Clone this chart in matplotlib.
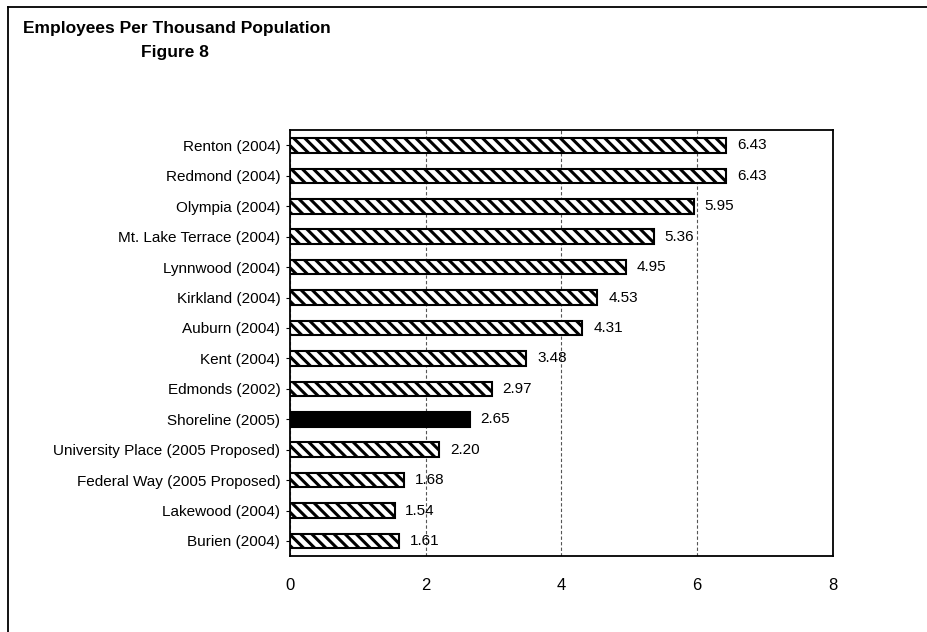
import matplotlib
matplotlib.use("Agg")
import matplotlib.pyplot as plt
from matplotlib.lines import Line2D

plt.rcParams["font.family"] = ["Liberation Sans", "DejaVu Sans"]
plt.rcParams["hatch.linewidth"] = 2.2

# data (top to bottom as shown)
cities = ["Renton (2004)", "Redmond (2004)", "Olympia (2004)", "Mt. Lake Terrace (2004)",
          "Lynnwood (2004)", "Kirkland (2004)", "Auburn (2004)", "Kent (2004)",
          "Edmonds (2002)", "Shoreline (2005)", "University Place (2005 Proposed)",
          "Federal Way (2005 Proposed)", "Lakewood (2004)", "Burien (2004)"]
values = [6.43, 6.43, 5.95, 5.36, 4.95, 4.53, 4.31, 3.48, 2.97, 2.65, 2.20, 1.68, 1.54, 1.61]
highlight = "Shoreline (2005)"

fig = plt.figure(figsize=(9.28, 6.32), dpi=100)
ax = fig.add_axes([0.3125, 0.12, 0.585, 0.674])

y = list(range(len(cities)))
for i, (c, v) in enumerate(zip(cities, values)):
    if c == highlight:
        ax.barh(i, v, height=0.48, color="black", edgecolor="black", linewidth=1.5, zorder=3)
    else:
        ax.barh(i, v, height=0.48, color="white", edgecolor="black", hatch="\\\\\\",
                linewidth=1.5, zorder=3)
    ax.text(v + 0.16, i, f"{v:.2f}", va="center", ha="left", fontsize=11, zorder=4)

ax.set_xlim(0, 8)
ax.set_ylim(len(cities) - 0.5, -0.5)
ax.set_xticks([0, 2, 4, 6, 8])
ax.set_yticks(y)
ax.set_yticklabels(cities, fontsize=11)
ax.tick_params(axis="x", length=0, pad=16, labelsize=12)
ax.tick_params(axis="y", length=3, pad=4, direction="out")
ax.grid(axis="x", color="#555555", linestyle=(0, (3, 2)), linewidth=0.8, zorder=1)
for s in ax.spines.values():
    s.set_linewidth(1.3)

fig.text(0.025, 1 - 28 / 632, "Employees Per Thousand Population", fontsize=12.5,
         fontweight="bold", va="center")
fig.text(175 / 928, 1 - 53 / 632, "Figure 8", fontsize=12.5, fontweight="bold",
         ha="center", va="center")

# outer frame (top and left)
fig.add_artist(Line2D([0.009, 1.0], [0.989, 0.989], color="black", linewidth=1.3,
                      transform=fig.transFigure))
fig.add_artist(Line2D([0.009, 0.009], [0.0, 0.989], color="black", linewidth=1.3,
                      transform=fig.transFigure))

fig.savefig("out.png", dpi=100)
